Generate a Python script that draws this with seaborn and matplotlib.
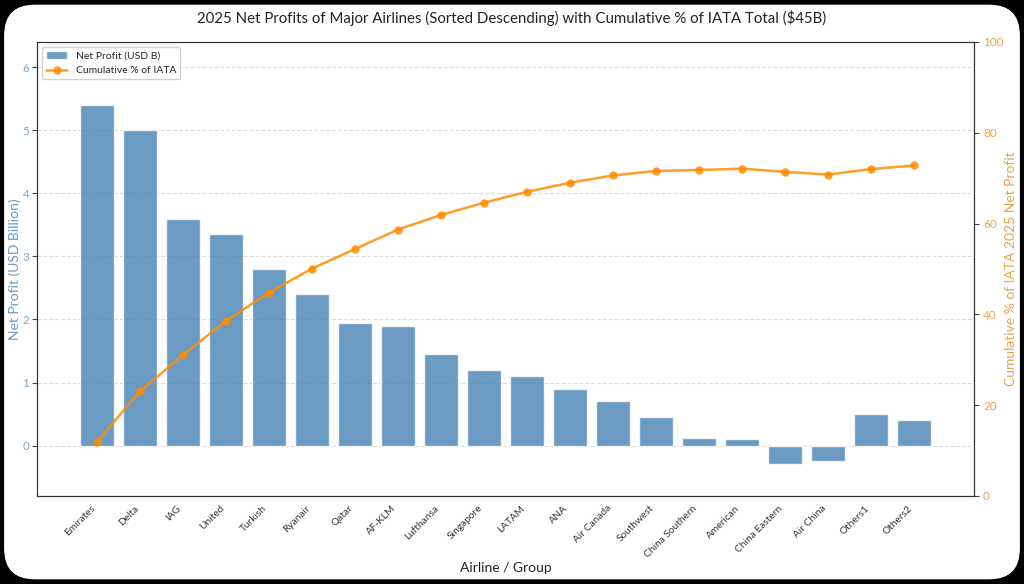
import numpy as np
import pandas as pd
import matplotlib.pyplot as plt
import seaborn as sns
from matplotlib.patches import FancyBboxPatch

airlines = ["Emirates", "Delta", "IAG", "United", "Turkish", "Ryanair", "Qatar",
            "AF-KLM", "Lufthansa", "Singapore", "LATAM", "ANA", "Air Canada",
            "Southwest", "China Southern", "American", "China Eastern",
            "Air China", "Others1", "Others2"]
profits = [5.4, 5.0, 3.6, 3.35, 2.8, 2.4, 1.95, 1.9, 1.45, 1.2, 1.1, 0.9, 0.7,
           0.45, 0.12, 0.11, -0.3, -0.25, 0.5, 0.4]
cum_pct = [12.0, 23.1, 31.1, 38.6, 44.8, 50.1, 54.4, 58.7, 61.9, 64.6, 67.0,
           69.0, 70.6, 71.6, 71.8, 72.1, 71.4, 70.8, 72.0, 72.8]

df = pd.DataFrame({"airline": airlines, "profit": profits, "cum": cum_pct})
df["pos"] = np.arange(len(df))

sns.set_style("white")
plt.rcParams["font.family"] = ["Lato", "DejaVu Sans"]

fig = plt.figure(figsize=(10.24, 5.84), dpi=100, facecolor="black")
# white rounded card inside the black frame
card = FancyBboxPatch((0.004, 0.008), 0.992, 0.984,
                      boxstyle="round,pad=0,rounding_size=0.03",
                      transform=fig.transFigure, facecolor="white",
                      edgecolor="none", mutation_aspect=1.75, zorder=-10)
fig.patches.append(card)

ax1 = fig.add_axes([37 / 1024, 1 - 496 / 584, (974 - 37) / 1024, (496 - 42) / 584])
bar_col = "steelblue"
line_col = "darkorange"

sns.barplot(data=df, x="pos", y="profit", ax=ax1, color=bar_col, alpha=0.8,
            width=0.8, saturation=1, label="Net Profit (USD B)", native_scale=True)
ax1.set_ylim(-0.8, 6.4)
ax1.set_xlim(-1.4, 20.4)
ax1.set_xticks(df["pos"])
ax1.set_xticklabels(airlines, rotation=45, ha="right", fontsize=7.3, color="#333333")
ax1.set_xlabel("Airline / Group", fontsize=10, color="#222222", labelpad=2)
ax1.set_ylabel("Net Profit (USD Billion)", fontsize=10, color="#6a9cc8", labelpad=1)
ax1.tick_params(axis="y", labelcolor="#7fa6c8", labelsize=8.5, pad=2)
ax1.tick_params(axis="x", pad=2)
ax1.tick_params(axis="both", length=3.5, color="#444444")
ax1.grid(axis="y", linestyle="--", alpha=0.5, color="#bbbbbb")
ax1.set_axisbelow(True)
for s in ax1.spines.values():
    s.set_color("#333333")

ax2 = ax1.twinx()
sns.lineplot(data=df, x="pos", y="cum", ax=ax2, color=line_col, marker="o",
             markersize=6, markeredgewidth=0, linewidth=1.8, alpha=0.85,
             sort=False, label="Cumulative % of IATA")
ax2.set_ylim(0, 100)
ax2.set_xlim(-1.4, 20.4)
ax2.set_ylabel("Cumulative % of IATA 2025 Net Profit", fontsize=10, color="#e8a448", labelpad=1)
ax2.tick_params(axis="y", labelcolor="#e8a448", labelsize=8.5, length=3.5,
                color="#444444", pad=3)
for s in ax2.spines.values():
    s.set_color("#333333")

h1, l1 = ax1.get_legend_handles_labels()
h2, l2 = ax2.get_legend_handles_labels()
if ax1.get_legend():
    ax1.get_legend().remove()
ax2.legend(h1 + h2, l1 + l2, loc="upper left", fontsize=7.5, framealpha=0.9)

fig.suptitle("2025 Net Profits of Major Airlines (Sorted Descending) with Cumulative % of IATA Total ($45B)",
             fontsize=10.8, y=0.983, color="#222222")

fig.savefig("out.png", dpi=100, facecolor="black")
